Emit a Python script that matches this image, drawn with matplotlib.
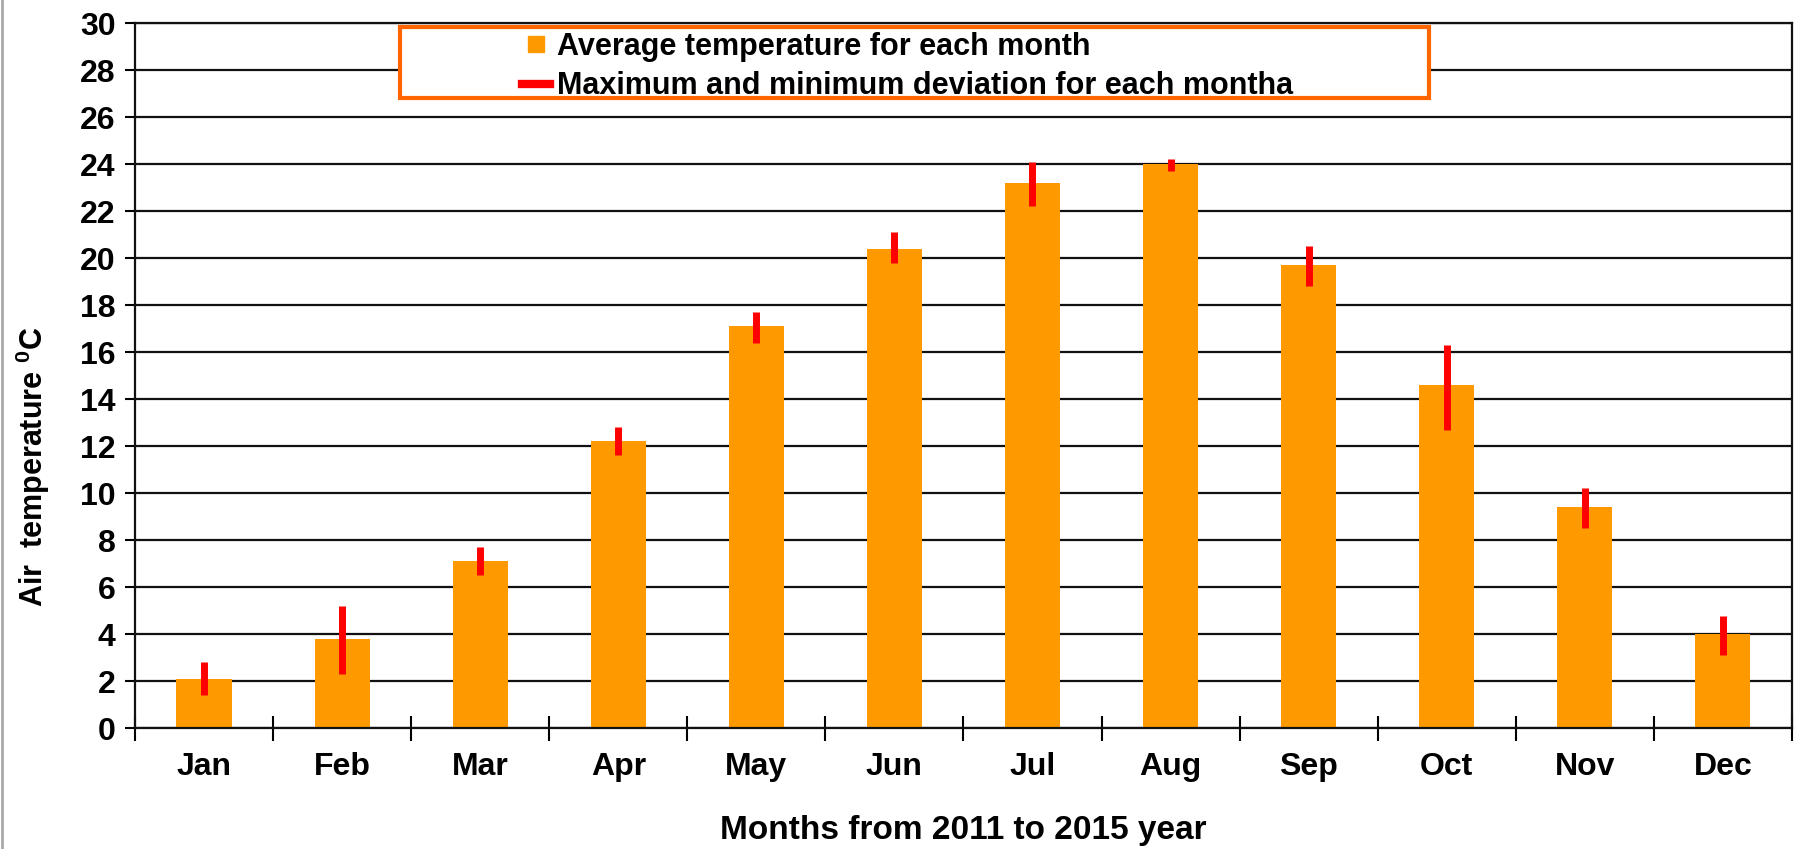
import numpy as np
import matplotlib
matplotlib.use("Agg")
import matplotlib.pyplot as plt
from matplotlib.lines import Line2D
from matplotlib.patches import Rectangle

months = ['Jan', 'Feb', 'Mar', 'Apr', 'May', 'Jun', 'Jul', 'Aug', 'Sep', 'Oct', 'Nov', 'Dec']
avg_temp = [2.1, 3.8, 7.1, 12.2, 17.1, 20.4, 23.2, 24.0, 19.7, 14.6, 9.4, 4.0]
dev_max = [2.8, 5.2, 7.7, 12.8, 17.7, 21.1, 24.1, 24.2, 20.5, 16.3, 10.2, 4.75]
dev_min = [1.4, 2.3, 6.5, 11.6, 16.4, 19.8, 22.2, 23.7, 18.8, 12.7, 8.5, 3.1]

plt.rcParams['font.family'] = ['Liberation Sans', 'DejaVu Sans']
plt.rcParams['font.weight'] = 'bold'
plt.rcParams['mathtext.fontset'] = 'custom'
plt.rcParams['mathtext.rm'] = 'Liberation Sans:bold'
plt.rcParams['mathtext.bf'] = 'Liberation Sans:bold'

fig = plt.figure(figsize=(18.1, 8.49), dpi=100)
ax = fig.add_axes([0.0746, 0.1425, 0.9154, 0.8304])

x = np.arange(len(months))
ax.bar(x, avg_temp, width=0.4, color='#FF9900', zorder=2)
ax.vlines(x, dev_min, dev_max, color='#FF0000', linewidth=5, zorder=3)

ax.set_xlim(-0.5, 11.5)
ax.set_ylim(0, 30)
ax.set_yticks(np.arange(0, 31, 2))
ax.yaxis.grid(True, color='#111111', linewidth=1.6, zorder=1)
ax.set_axisbelow(True)

# month labels sit between the boundary ticks
ax.set_xticks(np.arange(-0.5, 12, 1))
ax.set_xticklabels([])
ax.set_xticks(x, minor=True)
ax.set_xticklabels(months, minor=True, fontsize=23, fontweight='bold')
ax.tick_params(axis='x', which='major', direction='inout', length=18, width=1.5)
ax.tick_params(axis='x', which='minor', length=0, pad=17)
ax.tick_params(axis='y', direction='out', length=7, width=1.5, labelsize=23, pad=7)
for lab in ax.get_yticklabels():
    lab.set_fontweight('bold')

for s in ax.spines.values():
    s.set_linewidth(1.6)
    s.set_color('#111111')

ax.set_xlabel('Months from 2011 to 2015 year', fontsize=24, fontweight='bold', labelpad=24)
ax.set_ylabel('Air  temperature $^{0}$C', fontsize=22, fontweight='bold')
ax.yaxis.set_label_coords(-0.05, 0.37)

# legend with a wide orange frame
ax.add_patch(Rectangle((0.160, 0.894), 0.621, 0.1, transform=ax.transAxes,
                       facecolor='white', edgecolor='#FF6600', linewidth=3, zorder=4))
handles = [Line2D([], [], linestyle='none', marker='s', markersize=12, color='#FF9900'),
           Line2D([], [], color='#FF0000', linewidth=6)]
leg = ax.legend(handles, ['Average temperature for each month',
                          'Maximum and minimum deviation for each montha'],
                loc='upper left', bbox_to_anchor=(0.217, 1.026), frameon=False,
                handlelength=0.9, handletextpad=0.25, labelspacing=0.3,
                prop={'size': 22, 'weight': 'bold'})
leg.set_zorder(5)

fig.add_artist(Line2D([0.001, 0.001], [0, 1], color='#AAAAAA', linewidth=2))

plt.savefig('out.png', dpi=100)
